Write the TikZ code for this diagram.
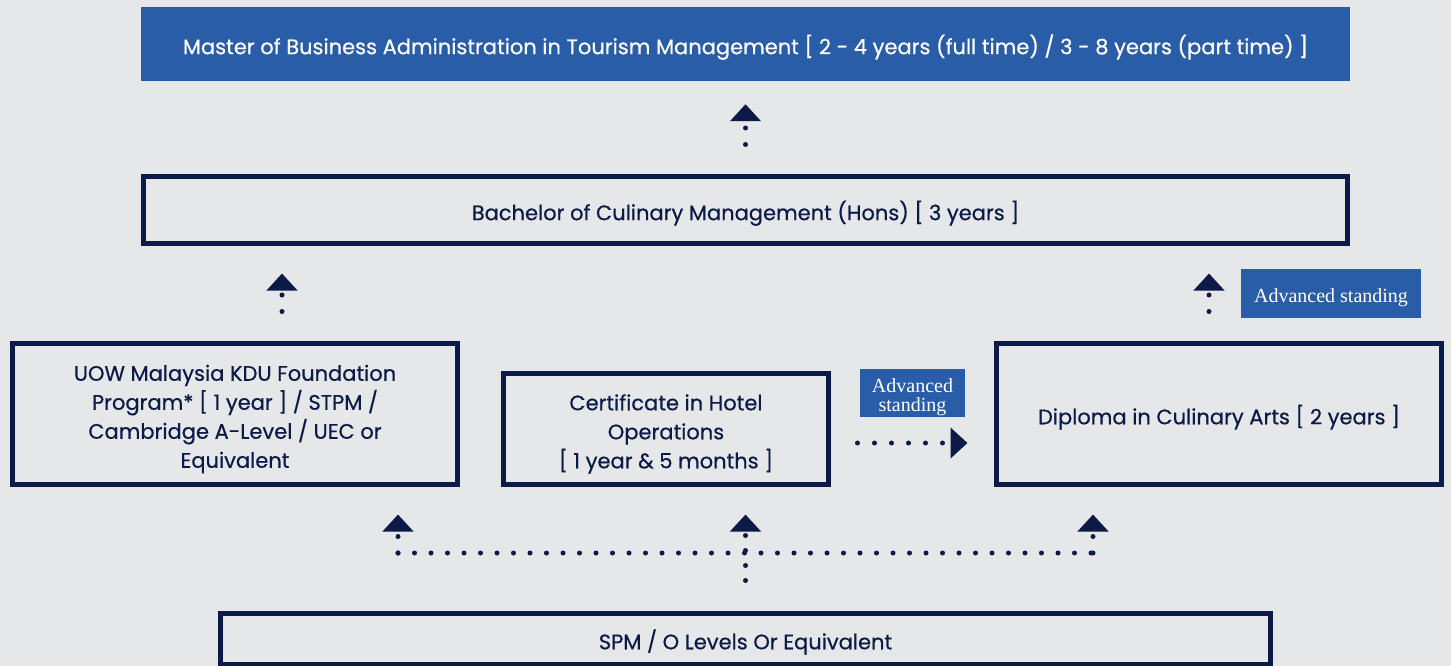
\documentclass[tikz,border=0pt]{standalone}
\usepackage{fontspec}
\setmainfont{Poppins}[FakeBold=0.5]
\newfontfamily\advserif{Liberation Serif}
\usetikzlibrary{arrows.meta,calc}
\definecolor{NavyDefault}{HTML}{0B1A46}
\definecolor{BlueDefault}{HTML}{2A5DA8}
\definecolor{BackDefault}{HTML}{E6E7E9}
\newcommand{\boxlift}{\rule{0pt}{26pt}}
\newcommand{\advlift}{\rule{0pt}{22pt}}
\tikzset{
  filledbox/.style={fill=BlueDefault, text=white, inner sep=0pt, align=center,
    font=\fontsize{21}{29}\selectfont},
  linebox/.style={draw=NavyDefault, line width=5pt, text=NavyDefault, inner sep=0pt,
    align=center, font=\fontsize{21}{29}\selectfont},
  advbox/.style={fill=BlueDefault, text=white, inner sep=0pt, align=center,
    font=\advserif\fontsize{20}{19}\selectfont},
  dotline/.style={NavyDefault, line width=5pt, line cap=round, dash pattern=on 0pt off 16.5pt},
  dotarrow/.style={dotline, -{Triangle[width=30pt,length=17pt]}},
}

\begin{document}
\begin{tikzpicture}[x=1pt,y=-1pt]
  %% Background
  \fill[BackDefault] (0,0) rectangle (1451,666);
  \useasboundingbox (0,0) rectangle (1451,666);
  %% Programmes
  \node[filledbox, minimum width=1209pt, minimum height=74pt] (master) at (745.5,44)
    {\boxlift Master of Business Administration in Tourism Management [ 2 - 4 years (full time) / 3 - 8 years (part time) ]};
  \node[linebox, minimum width=1204pt, minimum height=67pt] (bach) at (745.5,210)
    {\boxlift Bachelor of Culinary Management (Hons) [ 3 years ]};
  \node[linebox, minimum width=445pt, minimum height=141pt] (found) at (235,414)
    {\boxlift UOW Malaysia KDU Foundation\\Program* [ 1 year ] / STPM /\\Cambridge A-Level / UEC or\\Equivalent};
  \node[linebox, minimum width=325pt, minimum height=111pt] (cert) at (666,429)
    {\boxlift Certificate in Hotel\\Operations\\{}[ 1 year \& 5 months ]};
  \node[linebox, minimum width=445pt, minimum height=141pt] (dipl) at (1219,414)
    {\boxlift Diploma in Culinary Arts [ 2 years ]};
  \node[linebox, minimum width=1050pt, minimum height=51pt] (spm) at (745.5,639)
    {\boxlift SPM / O Levels Or Equivalent};
  %% Advanced standing
  \node[advbox, minimum width=180pt, minimum height=49pt] (advA) at (1331,293.5) {\advlift Advanced standing};
  \node[advbox, minimum width=105pt, minimum height=48pt] (advB) at (912.5,393) {\advlift Advanced\\standing};
  %% Progression
  \draw[dotarrow, shorten <=29.5pt, shorten >=23pt] (bach.north) -- (master.south);
  \draw[dotarrow, shorten <=29.5pt, shorten >=27.5pt] (found.north -| 282,0) -- (bach.south -| 282,0);
  \draw[dotarrow, shorten <=29.5pt, shorten >=27.5pt] (dipl.north -| 1209,0) -- (bach.south -| 1209,0);
  \draw[dotarrow, dash pattern=on 0pt off 17pt, shorten <=26.5pt, shorten >=26.5pt]
    (cert.east |- 0,443) -- (dipl.west |- 0,443);
  %% Entry
  \coordinate (hubL) at (398,553);
  \coordinate (hubR) at (1093,553);
  \draw[dotline] (hubL) -- (hubR);
  \draw[dotarrow, shorten >=27.5pt] (hubL) -- (hubL |- found.south);
  \draw[dotarrow, shorten >=27.5pt] (hubR) -- (hubR |- dipl.south);
  \draw[dotarrow, dash pattern=on 0pt off 15pt, shorten <=30.5pt, shorten >=27.5pt]
    (spm.north) -- (spm.north |- cert.south);
\end{tikzpicture}
\end{document}
